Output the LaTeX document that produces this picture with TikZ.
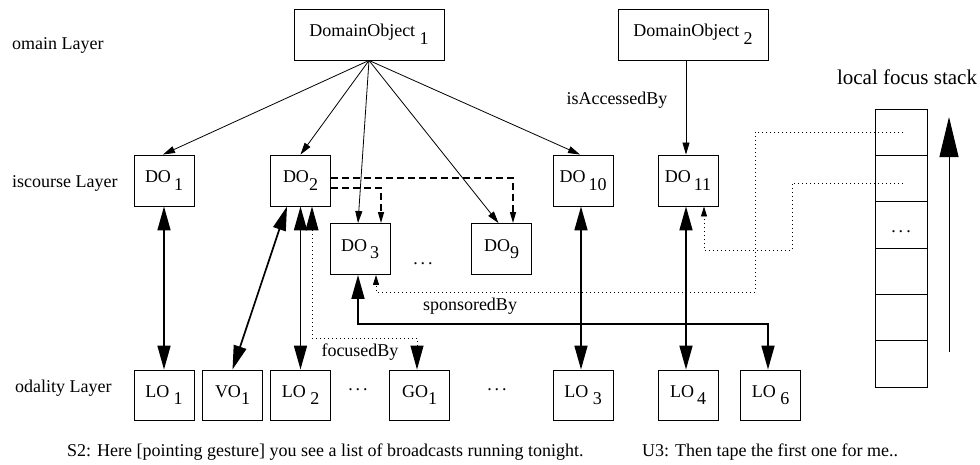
\documentclass[tikz,border=0pt]{standalone}
\usepackage{fontspec}
\setmainfont{Liberation Serif}
\usetikzlibrary{arrows.meta,calc}
\newcommand\lowsub[1]{\raisebox{-0.42em}{#1}}
\newcommand\spdots{.\hspace{3pt}.\hspace{3pt}.}
\begin{document}
\begin{tikzpicture}[x=1pt,y=-1pt,
 box/.style={draw,line width=0.9pt,minimum width=60pt,minimum height=51pt,inner sep=0pt,font=\fontsize{18}{20}\selectfont},
 cell/.style={draw,line width=0.9pt,minimum width=52pt,minimum height=46.33pt,inner sep=0pt},
 lbl/.style={font=\fontsize{18}{20}\selectfont,inner sep=0pt},
 thinarrow/.style={line width=0.8pt,-{Triangle[length=12pt,width=7pt]}},
 bigarrow/.style={line width=1.7pt,{Triangle[length=24pt,width=13pt]}-{Triangle[length=24pt,width=13pt]}},
 dsh/.style={line width=1.4pt,dash pattern=on 7pt off 4pt,-{Triangle[length=11pt,width=6pt]}},
 dtt/.style={line width=0.9pt,dash pattern=on 1pt off 3pt,-{Triangle[length=10pt,width=6pt]}},
]
\useasboundingbox (0,0) rectangle (980,464);

% domain layer
\node[box,minimum width=150pt] (DOM1) at (369,34.5) {DomainObject\ \lowsub{1}};
\node[box,minimum width=150pt] (DOM2) at (693,34.5) {DomainObject\ \lowsub{2}};
% discourse layer
\node[box] (DO1) at (164,180.5) {DO\,\lowsub{1}};
\node[box] (DO2) at (300.5,180.5) {DO\lowsub{2}};
\node[box] (DO3) at (360,249) {DO\,\lowsub{3}};
\node[box] (DO9) at (501.5,249) {DO\lowsub{9}};
\node[box] (DO10) at (583,180.5) {DO\,\lowsub{10}};
\node[box] (DO11) at (688,180.5) {DO\,\lowsub{11}};
% modality layer
\node[box,minimum height=50pt] (LO1) at (164,395) {LO\ \lowsub{1}};
\node[box,minimum height=50pt] (VO1) at (232.5,395) {VO\lowsub{1}};
\node[box,minimum height=50pt] (LO2) at (300.5,395) {LO\ \lowsub{2}};
\node[box,minimum height=50pt] (GO1) at (419.5,395) {GO\lowsub{1}};
\node[box,minimum height=50pt] (LO3) at (583,395) {LO\ \lowsub{3}};
\node[box,minimum height=50pt] (LO4) at (688,395) {LO\,\lowsub{4}};
\node[box,minimum height=50pt] (LO6) at (770.5,395) {LO\ \lowsub{6}};

% stack
\node[cell] (st1) at (901,132.17) {};
\node[cell] (st2) at (901,178.5) {};
\node[cell] (st3) at (901,224.83) {};
\node[cell] (st4) at (901,271.17) {};
\node[cell] (st5) at (901,317.5) {};
\node[cell] (st6) at (901,363.83) {};
\node[lbl] (sdots) at (901,232) {\spdots};
\node[font=\fontsize{21}{24}\selectfont,inner sep=0pt] (lfs) at (907,77) {local focus stack};
\coordinate (sb) at (949,352);
\coordinate (stp) at (949,117);
\draw[line width=0.9pt,-{Triangle[length=40pt,width=19pt]}] (sb) -- (stp);

% labels
\node[lbl,anchor=west] (L1) at (12,45) {omain Layer};
\node[lbl,anchor=west] (L2) at (12,183) {iscourse Layer};
\node[lbl,anchor=west] (L3) at (15,388) {odality Layer};
\node[lbl] (acc) at (617,100) {isAccessedBy};
\node[lbl] (spon) at (470,306) {sponsoredBy};
\node[lbl] (foc) at (360,352) {focusedBy};
\node[lbl] (d1) at (423,264) {\spdots};
\node[lbl] (d2) at (358,390) {\spdots};
\node[lbl] (d3) at (497,390) {\spdots};
\node[lbl,anchor=west] (utt1) at (67,452) {S2: Here [pointing gesture] you see a list of broadcasts running tonight.};
\node[lbl,anchor=west] (utt2) at (642,452) {U3: Then tape the first one for me..};

% domain object arrows
\draw[thinarrow] (DOM1.south) -- ([xshift=-1pt]DO1.north);
\draw[thinarrow] (DOM1.south) -- (DO2.north);
\draw[thinarrow] (DOM1.south) -- ([xshift=-2pt]DO3.north);
\draw[thinarrow] (DOM1.south) -- ([xshift=-3pt]DO9.north);
\draw[thinarrow] (DOM1.south) -- ([xshift=-3pt]DO10.north);
\draw[thinarrow] ([xshift=-7pt]DOM2.south) -- ([xshift=-2pt]DO11.north);

% dashed
\draw[dsh] ([yshift=2.5pt]DO2.east) -| ([xshift=11.5pt]DO9.north);
\draw[dsh] ([yshift=-7.5pt]DO2.east) -| ([xshift=21pt]DO3.north);

% thick bidirectional
\draw[bigarrow] (DO1.south) -- (LO1.north);
\draw[bigarrow] (VO1.north) -- ([xshift=-13.5pt]DO2.south);
\draw[bigarrow] (DO2.south) -- (LO2.north);
\draw[bigarrow] ([xshift=-2pt]DO10.south) -- ([xshift=-2pt]LO3.north);
\draw[bigarrow] ([xshift=-2pt]DO11.south) -- ([xshift=-2pt]LO4.north);
\coordinate (fcorner) at (312,338);
\draw[bigarrow,line width=1pt,dash pattern=on 1pt off 3pt] ([xshift=-2.5pt]GO1.north) |- (fcorner) -- ([xshift=11.5pt]DO2.south);
\coordinate (scorner) at (358,324);
\draw[bigarrow] ([xshift=-2.5pt]LO6.north) |- (scorner) -- ([xshift=-2pt]DO3.south);

% dotted from stack
\coordinate (c1) at (755,292);
\draw[dtt] ([xshift=2pt]st1.center) -| (c1) -| ([xshift=16pt]DO3.south);
\coordinate (c2) at (792,250);
\draw[dtt] ([xshift=2pt,yshift=-4.5pt]st2.center) -| (c2) -| ([xshift=16pt]DO11.south);
\end{tikzpicture}
\end{document}
